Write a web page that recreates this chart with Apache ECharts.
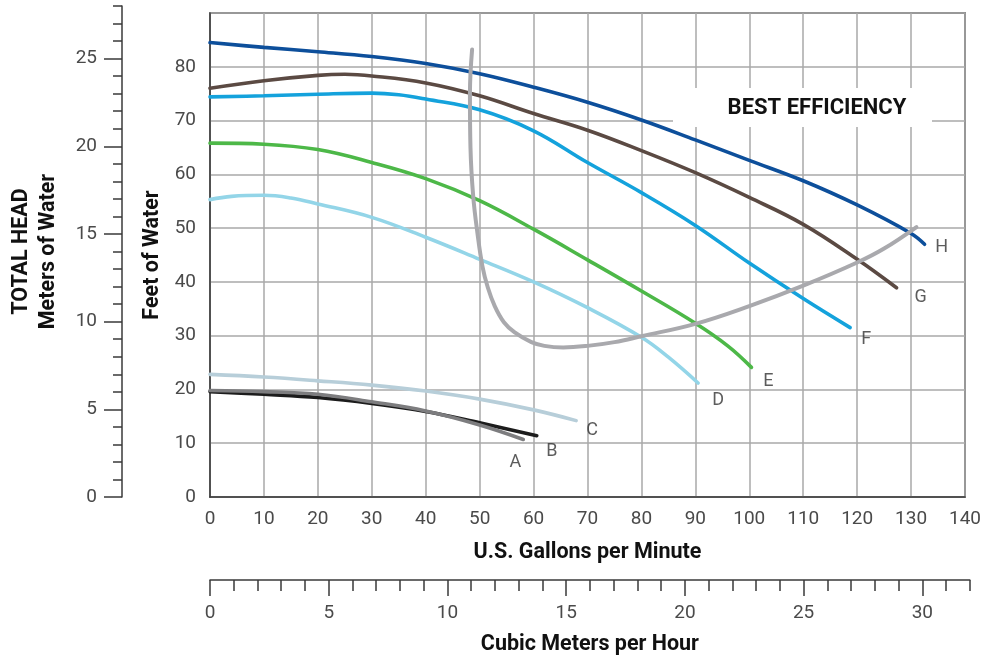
<!DOCTYPE html>
<html>
<head>
<meta charset="utf-8">
<script src="https://cdn.jsdelivr.net/npm/echarts@6/dist/echarts.min.js"></script>
<style>html,body{margin:0;padding:0;background:#fff;}#c{width:985px;height:660px;}</style>
</head>
<body>
<div id="c"></div>
<script>
// ---- data (gpm, feet of water) ----
const curveNames = ['A','B','C','D','E','F','G','H'];
const curveA = [[0,19.8],[10,19.6],[20,19.1],[30,17.7],[40,16],[50,13.4],[58.1,10.7]];
const curveB = [[0,19.6],[10,19.1],[20,18.5],[30,17.4],[40,15.9],[50,13.8],[60.6,11.4]];
const curveC = [[0,22.8],[10,22.3],[20,21.6],[30,20.8],[40,19.7],[50,18.2],[60,16.2],[67.9,14.2]];
const curveD = [[0,55.3],[4,55.9],[10,56.1],[15,55.6],[20,54.5],[30,52],[40,48.3],[50,44.2],[60,40],[70,35.2],[80,29.7],[85,26],[90.5,21.2]];
const curveE = [[0,65.8],[10,65.6],[20,64.6],[30,62.2],[40,59.2],[50,55.1],[60,49.8],[70,44.1],[80,38.3],[90,32.3],[96,28.1],[100.4,24.1]];
const curveF = [[0,74.4],[10,74.6],[20,74.9],[30,75.1],[35,74.8],[40,74],[50,72],[60,68.1],[70,62.2],[80,56.6],[90,50.5],[100,43.5],[110,36.9],[118.7,31.5]];
const curveG = [[0,76],[10,77.4],[20,78.4],[25,78.6],[30,78.3],[40,77],[50,74.6],[60,71.3],[70,68.2],[80,64.4],[90,60.3],[100,55.7],[110,50.7],[120,44.2],[127.3,38.9]];
const curveH = [[0,84.5],[10,83.6],[20,82.8],[30,81.9],[40,80.6],[50,78.7],[60,76.2],[70,73.4],[80,70.1],[90,66.4],[100,62.6],[110,58.8],[120,54.3],[130,49],[132.5,47]];
const bestEfficiency = [[48.6,83.2],[48.2,75],[48.3,65],[48.8,56],[49.6,49],[50.5,43],[51.5,39],[52.8,35.5],[54.5,32.5],[56.5,30.6],[59.6,28.8],[62,28.1],[65.5,27.8],[70,28.1],[75,28.8],[80,29.9],[90,32.2],[100,35.5],[110,39.3],[120,43.6],[125,46.2],[131,50.2]];
const bestEfficiencyLabel = 'BEST EFFICIENCY';
// ---- axes ----
const gpmRange = [0, 140];
const feetRange = [0, 90];
const meterMajorTicks = [0,5,10,15,20,25];
const meterMinorTicks = [0,1,2,3,4,5,6,7,8,9,10,11,12,13,14,15,16,17,18,19,20,21,22,23,24,25,26,27,28];
const cmhMajorTicks = [0,5,10,15,20,25,30];
const cmhMinorTicks = [0,1,2,3,4,5,6,7,8,9,10,11,12,13,14,15,16,17,18,19,20,21,22,23,24,25,26,27,28,29,30,31,32];
const titles = {
  gpm: 'U.S. Gallons per Minute',
  cmh: 'Cubic Meters per Hour',
  feet: 'Feet of Water',
  meters: 'TOTAL HEAD\nMeters of Water'
};

// ---- styling ----
const FONT = 'Roboto, "DejaVu Sans", sans-serif';
const TITLE_SIZE = 21.5;
const TICK_SIZE = 19;
const curves = [curveA, curveB, curveC, curveD, curveE, curveF, curveG, curveH];
const colors = ['#7d7d7f', '#1c1c1c', '#b7ced9', '#93d5e8', '#4db848', '#14a2dc', '#5b4a43', '#0d4f9b'];
const labelOffsets = [[-8,23],[15,16],[16,10],[20,18],[17,14],[16,12],[24,10],[17,3]];
const drawOrder = [2,1,0,3,4,5,6,7];

const plotLeft = 210, plotRight = 20, plotTop = 13, plotBottom = 163;
const plotWidth = 985 - plotLeft - plotRight;
const gpmPerCmh = 4.40287;
const cmhWidth = plotWidth * (32 * gpmPerCmh / 140);

const labelColor = '#4a4a4a';
const frameColor = '#3a3a3a';
const titleStyle = { fontSize: TITLE_SIZE, fontWeight: 'bold', color: '#111', fontFamily: FONT };

const series = [];
drawOrder.forEach(i => {
  series.push({
    type: 'line', name: curveNames[i], xAxisIndex: 0, yAxisIndex: 0,
    data: curves[i], smooth: 0.4, showSymbol: false, symbol: 'none',
    lineStyle: { color: colors[i], width: 3.6, cap: 'round' },
    z: 3, silent: true
  });
});
series.push({
  type: 'line', name: 'best', xAxisIndex: 0, yAxisIndex: 0,
  data: bestEfficiency, smooth: 0.4, showSymbol: false, symbol: 'none',
  lineStyle: { color: '#a9a9ad', width: 4, cap: 'round' }, z: 4, silent: true
});
series.push({
  type: 'scatter', xAxisIndex: 0, yAxisIndex: 0, symbolSize: 1,
  itemStyle: { color: 'rgba(0,0,0,0)' }, silent: true, z: 5,
  data: curves.map((c, i) => ({
    value: c[c.length - 1],
    label: { show: true, formatter: curveNames[i], position: 'inside', offset: labelOffsets[i],
      color: '#333', fontSize: 18, fontFamily: FONT }
  }))
});

const option = {
  animation: false,
  backgroundColor: '#fff',
  textStyle: { fontFamily: FONT },
  grid: [
    { left: plotLeft, top: plotTop, width: plotWidth, bottom: plotBottom, show: true, borderColor: frameColor, borderWidth: 1.5, outerBoundsMode: 'none', containLabel: false },
    { left: 122, top: 6, width: 10, bottom: plotBottom, outerBoundsMode: 'none', containLabel: false },
    { left: plotLeft, width: cmhWidth, top: 560, bottom: 80, outerBoundsMode: 'none', containLabel: false }
  ],
  xAxis: [
    { type: 'value', gridIndex: 0, min: gpmRange[0], max: gpmRange[1], interval: 10,
      axisLine: { show: true, lineStyle: { color: frameColor, width: 1.5 } },
      axisTick: { show: false },
      splitLine: { show: true, lineStyle: { color: '#a8a8a8', width: 1.5 } },
      axisLabel: { margin: 13, fontSize: TICK_SIZE, color: labelColor, fontFamily: FONT },
      name: titles.gpm, nameLocation: 'middle', nameGap: 45, nameTextStyle: titleStyle },
    { type: 'value', gridIndex: 1, show: false, min: 0, max: 1 },
    { type: 'value', gridIndex: 2, min: 0, max: 32, position: 'bottom',
      axisLine: { show: true, lineStyle: { color: frameColor, width: 1.5 } },
      axisTick: { show: true, length: 16, customValues: cmhMajorTicks, lineStyle: { color: frameColor, width: 1.5 } },
      splitLine: { show: false },
      axisLabel: { show: true, customValues: cmhMajorTicks, margin: 24, fontSize: TICK_SIZE, color: labelColor, fontFamily: FONT },
      name: titles.cmh, nameLocation: 'middle', nameGap: 54, nameTextStyle: titleStyle },
    { type: 'value', gridIndex: 2, min: 0, max: 32, position: 'bottom',
      axisLine: { show: false },
      axisTick: { show: true, length: 11, customValues: cmhMinorTicks, lineStyle: { color: frameColor, width: 1.5 } },
      splitLine: { show: false }, axisLabel: { show: false } }
  ],
  yAxis: [
    { type: 'value', gridIndex: 0, min: feetRange[0], max: feetRange[1], interval: 10,
      axisLine: { show: true, lineStyle: { color: frameColor, width: 1.5 } },
      axisTick: { show: false },
      splitLine: { show: true, lineStyle: { color: '#a8a8a8', width: 1.5 } },
      axisLabel: { margin: 14, fontSize: TICK_SIZE, color: labelColor, fontFamily: FONT,
        formatter: v => (v >= feetRange[1] ? '' : String(v)) },
      name: titles.feet, nameLocation: 'middle', nameRotate: 90, nameGap: 41, nameTextStyle: titleStyle },
    { type: 'value', gridIndex: 1, min: 0, max: 28, position: 'left',
      axisLine: { show: true, lineStyle: { color: frameColor, width: 1.5 } },
      axisTick: { show: true, length: 18, customValues: meterMajorTicks, lineStyle: { color: frameColor, width: 1.5 } },
      splitLine: { show: false },
      axisLabel: { show: true, customValues: meterMajorTicks, margin: 25, fontSize: TICK_SIZE, color: labelColor, fontFamily: FONT },
      name: titles.meters, nameLocation: 'middle', nameRotate: 90, nameGap: 60,
      nameTextStyle: Object.assign({}, titleStyle, { lineHeight: 27 }) },
    { type: 'value', gridIndex: 1, min: 0, max: 28, position: 'left',
      axisLine: { show: false },
      axisTick: { show: true, length: 9, customValues: meterMinorTicks, lineStyle: { color: frameColor, width: 1.5 } },
      splitLine: { show: false }, axisLabel: { show: false } },
    { type: 'value', gridIndex: 2, show: false, min: 0, max: 1 }
  ],
  graphic: [
    { type: 'rect', z: 2, shape: { x: 673, y: 88, width: 259, height: 39 }, style: { fill: '#fff' } },
    { type: 'text', z: 2, x: 817, y: 108, style: { text: bestEfficiencyLabel, fill: '#111',
        font: 'bold 22px ' + FONT, textAlign: 'center', textVerticalAlign: 'middle' } }
  ],
  series: series
};

const chart = echarts.init(document.getElementById('c'), null, { renderer: 'canvas' });
chart.setOption(option);
</script>
</body>
</html>
